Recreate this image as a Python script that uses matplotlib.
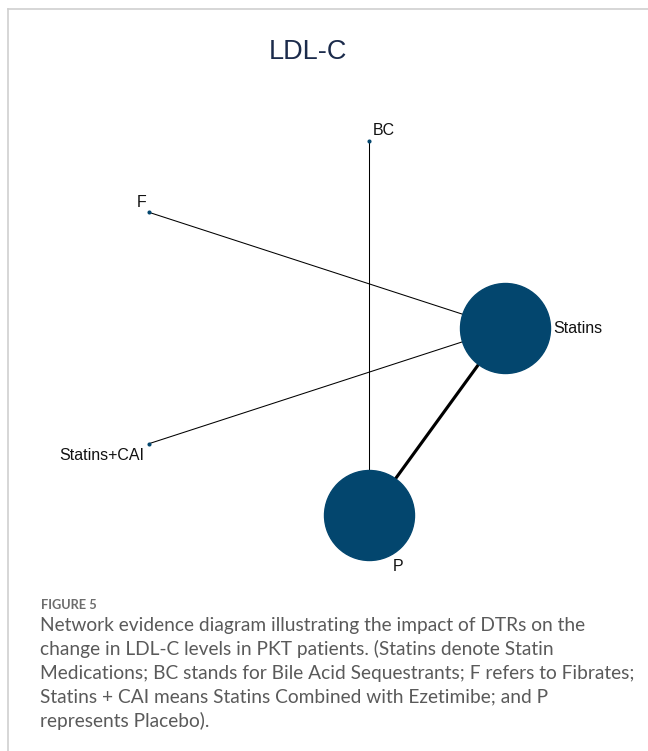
import numpy as np
import matplotlib.pyplot as plt
from matplotlib.lines import Line2D

# treatments, in the order they are placed round the circle
treatments = ["Statins", "BC", "F", "Statins+CAI", "P"]
node_size = [10, 0.3, 0.3, 0.3, 10]        # relative node weight
edges = [("Statins", "P"), ("BC", "P"), ("F", "Statins"), ("Statins+CAI", "Statins")]
edge_studies = [3, 1, 1, 1]

title = "LDL-C"
caption_head = "FIGURE 5"
caption_lines = [
    "Network evidence diagram illustrating the impact of DTRs on the",
    "change in LDL-C levels in PKT patients. (Statins denote Statin",
    "Medications; BC stands for Bile Acid Sequestrants; F refers to Fibrates;",
    "Statins + CAI means Statins Combined with Ezetimibe; and P",
    "represents Placebo).",
]

NODE = "#03466e"
W, H = 648, 751
fig = plt.figure(figsize=(W / 100, H / 100), dpi=100)

# panel border (top + left edge visible)
fig.add_artist(Line2D([8 / W, 8 / W], [0, 1 - 9 / H], color="#cfcfcf", lw=1.2))
fig.add_artist(Line2D([8 / W, 1], [1 - 9 / H, 1 - 9 / H], color="#cfcfcf", lw=1.2))

# network on a unit circle, centre at pixel (308, 328), radius 197 px
cx, cy, R = 308, 328, 197
ax = fig.add_axes([0, 0, 1, 1])
ax.set_xlim(-cx / R, (W - cx) / R)
ax.set_ylim(-(H - cy) / R, cy / R)
ax.axis("off")

ang = 2 * np.pi * np.arange(len(treatments)) / len(treatments)
pos = {t: (np.cos(a), np.sin(a)) for t, a in zip(treatments, ang)}

for (a, b), n in zip(edges, edge_studies):
    ax.plot([pos[a][0], pos[b][0]], [pos[a][1], pos[b][1]],
            color="black", lw=0.75 * n, zorder=1, solid_capstyle="butt")

for t, s in zip(treatments, node_size):
    ax.plot(*pos[t], "o", ms=6.48 * s, color=NODE, mec=NODE, zorder=2)

# label offsets in pixels
lab = {
    "Statins": (48, 0, "left"),
    "BC": (4, 10, "left"),
    "F": (-2, 10, "right"),
    "Statins+CAI": (-4, -12, "right"),
    "P": (24, -51, "left"),
}
for t in treatments:
    dx, dy, ha = lab[t]
    ax.annotate(t, pos[t], xytext=(dx, dy), textcoords="offset pixels",
                ha=ha, va="center", fontsize=11.5, family="Liberation Sans",
                color="#111111")

fig.text(308 / W, 1 - 52 / H, title, ha="center", va="center",
         fontsize=19.5, family="Liberation Sans", color="#1b2b4b")

fig.text(41 / W, 1 - 605 / H, caption_head, ha="left", va="center",
         fontsize=9.2, family="Lato", weight="bold", color="#6d6d6d")
for i, line in enumerate(caption_lines):
    fig.text(40 / W, 1 - (625 + 24 * i) / H, line, ha="left", va="center",
             fontsize=13.75, family="Lato", color="#5a5a5a")

fig.savefig("out.png", dpi=100)
